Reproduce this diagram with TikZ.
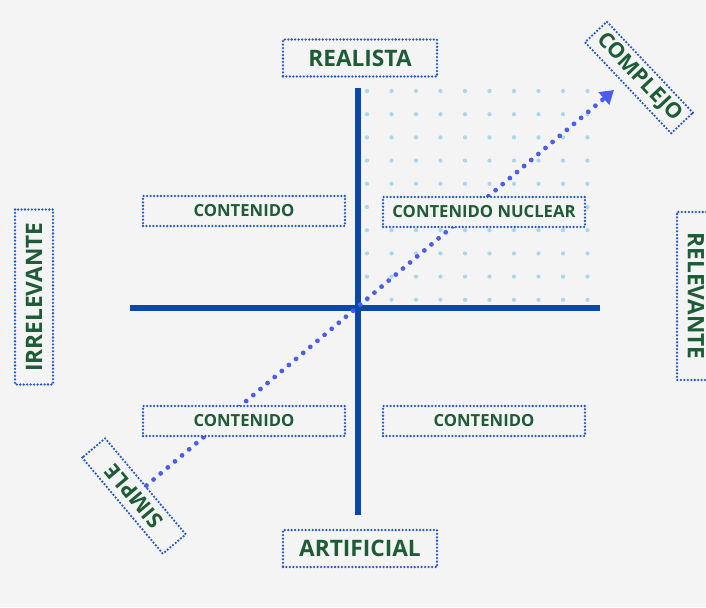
\documentclass[tikz,border=0pt]{standalone}
\usepackage{fontspec}
\setmainfont{Open Sans}
\usetikzlibrary{arrows.meta}
\usepackage{xcolor}
\definecolor{bggray}{HTML}{F4F4F4}
\definecolor{axisblue}{HTML}{0B47A8}
\definecolor{boxblue}{HTML}{2458C8}
\definecolor{arrowblue}{HTML}{4A5EEE}
\definecolor{gridblue}{HTML}{A8D8EE}
\definecolor{labelgreen}{HTML}{1D5C36}

\begin{document}
\begin{tikzpicture}[x=0.75pt,y=0.75pt,yscale=-1,xscale=1,
  lblbox/.style={draw=boxblue, line width=1.9pt, dash pattern=on 0pt off 2.6pt, line cap=round,
    fill=bggray, text=labelgreen, inner sep=0pt, font=\bfseries\fontsize{17}{20}\selectfont},
  axislbl/.style={lblbox, minimum width=115.5pt, minimum height=27.75pt},
  cellbox/.style={lblbox, minimum width=151.5pt, minimum height=22.5pt, font=\bfseries\fontsize{12.5}{15}\selectfont},
  diagbox/.style={lblbox, minimum width=94pt, minimum height=22.5pt, font=\bfseries\fontsize{16}{19}\selectfont},
  sidebox/.style={lblbox, minimum height=28.5pt},
  axisline/.style={axisblue, line width=4.5pt},
  dotarrow/.style={arrowblue, line width=3.6pt, dash pattern=on 0pt off 7pt, line cap=round,
    -{Triangle[length=10pt,width=12pt]}}]

%Background
\fill[bggray] (0,0) rectangle (706,607);
\useasboundingbox (0,0) rectangle (706,607);

%Dot grid, upper right quadrant
\foreach \i in {0,...,9}
  \foreach \j in {0,...,9}
    \fill[gridblue] (367+24.5*\i,91+23.2*\j) circle (1.6pt);

%Shape: Axes
\draw[axisline] (358,88) -- (358,515);
\draw[axisline] (130,308) -- (600,308);

% Diagonal labels
\draw (134,496) node (simple) [diagbox, rotate=130] {SIMPLE};
\draw (639,77.5) node (complejo) [diagbox, rotate=-46.6] {COMPLEJO};
\coordinate (tip) at (614,90);

%Dotted arrow
\draw[dotarrow] (simple) -- (tip);

% Text Node
\draw (360,58) node (realista) [axislbl] {REALISTA};
% Text Node
\draw (360,548.5) node (artificial) [axislbl] {ARTIFICIAL};
% Text Node
\draw (34,297) node (irrelevante) [sidebox, minimum width=131.25pt, rotate=90] {IRRELEVANTE};
% Text Node
\draw (696,296) node (relevante) [sidebox, minimum width=126pt, rotate=-90] {RELEVANTE};

% Text Node
\draw (244,211) node (contsup) [cellbox] {CONTENIDO};
% Text Node
\draw (484,212) node (nuclear) [cellbox] {CONTENIDO NUCLEAR};
% Text Node
\draw (244,421) node (continf) [cellbox] {CONTENIDO};
% Text Node
\draw (484,421) node (contder) [cellbox] {CONTENIDO};

\end{tikzpicture}
\end{document}
